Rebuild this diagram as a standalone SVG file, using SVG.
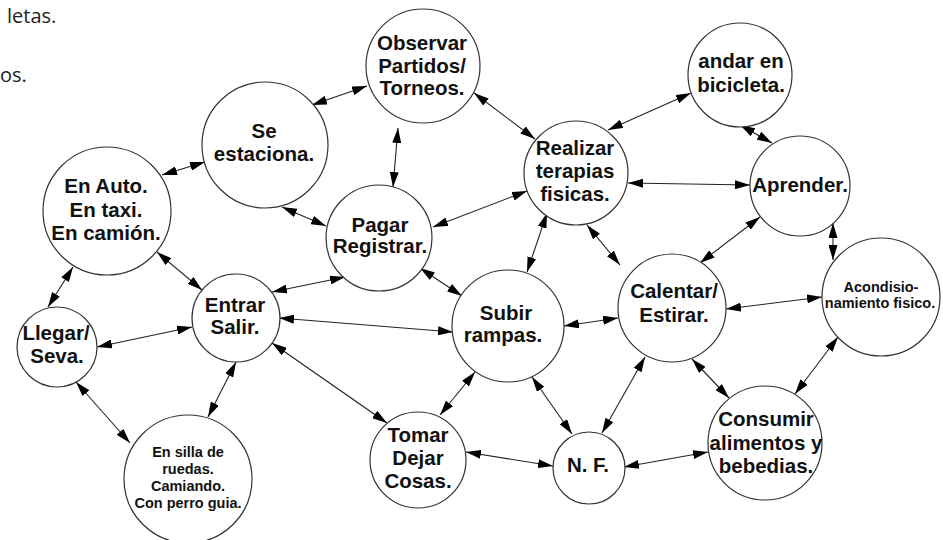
<svg xmlns="http://www.w3.org/2000/svg" width="943" height="540" viewBox="0 0 943 540">
<defs>
<marker id="ah" viewBox="0 0 15 9" refX="15" refY="4.5" markerWidth="15" markerHeight="9" markerUnits="userSpaceOnUse" orient="auto-start-reverse">
<path d="M0,0 L15,4.5 L0,9 z" fill="#000"/>
</marker>
<style>
.n circle{fill:#fff;stroke:#333;stroke-width:1.2}
.n text{font-family:"Liberation Sans",Arial,sans-serif;font-weight:bold;font-size:20.5px;fill:#111;text-anchor:middle}
.n text.s{font-size:14.5px}
#edges line{stroke:#222;stroke-width:1.1;marker-start:url(#ah);marker-end:url(#ah)}
.bg{font-family:"Open Sans","Liberation Sans",sans-serif;font-size:20px;fill:#222}
</style>
</defs>
<rect width="943" height="540" fill="#fff"/>
<text class="bg" x="7" y="23">letas.</text>
<text class="bg" x="0" y="82">os.</text>

<g id="edges">
<line x1="162" y1="175" x2="205" y2="162"/>
<line x1="282" y1="207" x2="326" y2="226"/>
<line x1="157" y1="252" x2="202" y2="290"/>
<line x1="73" y1="267" x2="48" y2="307"/>
<line x1="97" y1="347" x2="192" y2="327"/>
<line x1="76" y1="382" x2="130" y2="443"/>
<line x1="236" y1="362" x2="208" y2="417"/>
<line x1="272" y1="292" x2="345" y2="277"/>
<line x1="279" y1="318" x2="453" y2="332"/>
<line x1="272" y1="343" x2="387" y2="423"/>
<line x1="420" y1="268" x2="462" y2="296"/>
<line x1="475" y1="372" x2="440" y2="415"/>
<line x1="532" y1="377" x2="572" y2="434"/>
<line x1="466" y1="452" x2="553" y2="466"/>
<line x1="547" y1="213" x2="527" y2="272"/>
<line x1="433" y1="227" x2="527" y2="191"/>
<line x1="312" y1="105" x2="367" y2="86"/>
<line x1="398" y1="128" x2="393" y2="187"/>
<line x1="474" y1="93" x2="535" y2="139"/>
<line x1="587" y1="225" x2="620" y2="265"/>
<line x1="608" y1="130" x2="691" y2="93"/>
<line x1="628" y1="183" x2="750" y2="185"/>
<line x1="740" y1="125" x2="772" y2="143"/>
<line x1="760" y1="217" x2="700" y2="263"/>
<line x1="833" y1="223" x2="833" y2="260"/>
<line x1="726" y1="309" x2="822" y2="297"/>
<line x1="564" y1="326" x2="618" y2="318"/>
<line x1="645" y1="357" x2="602" y2="433"/>
<line x1="692" y1="359" x2="729" y2="398"/>
<line x1="838" y1="337" x2="795" y2="394"/>
<line x1="624" y1="467" x2="708" y2="452"/>
</g>

<g id="observar" class="n"><circle cx="423" cy="66" r="57"/>
<text x="422" y="50">Observar</text><text x="422" y="73">Partidos/</text><text x="422" y="95">Torneos.</text></g>

<g id="seestaciona" class="n"><circle cx="265" cy="145" r="63"/>
<text x="264" y="138">Se</text><text x="264" y="161">estaciona.</text></g>

<g id="enauto" class="n"><circle cx="107" cy="211" r="64"/>
<text x="106" y="193">En Auto.</text><text x="106" y="217">En taxi.</text><text x="106" y="240">En camión.</text></g>

<g id="llegar" class="n"><circle cx="57" cy="347" r="40"/>
<text x="56" y="340">Llegar/</text><text x="57" y="363">Seva.</text></g>

<g id="entrar" class="n"><circle cx="236" cy="318" r="44"/>
<text x="235" y="312">Entrar</text><text x="235" y="334">Salir.</text></g>

<g id="ensilla" class="n"><circle cx="188" cy="479" r="64"/>
<text class="s" x="188" y="457">En silla de</text><text class="s" x="188" y="474">ruedas.</text><text class="s" x="188" y="491">Camiando.</text><text class="s" x="188" y="508">Con perro guia.</text></g>

<g id="pagar" class="n"><circle cx="379" cy="238" r="53"/>
<text x="380" y="232">Pagar</text><text x="380" y="253">Registrar.</text></g>

<g id="realizar" class="n"><circle cx="576" cy="173" r="52"/>
<text x="575" y="155">Realizar</text><text x="575" y="178">terapias</text><text x="575" y="201">fisicas.</text></g>

<g id="andar" class="n"><circle cx="740" cy="75" r="52"/>
<text x="741" y="68">andar en</text><text x="741" y="92">bicicleta.</text></g>

<g id="aprender" class="n"><circle cx="800" cy="186" r="50"/>
<text x="800" y="192">Aprender.</text></g>

<g id="acondisio" class="n"><circle cx="881" cy="297" r="59"/>
<text class="s" x="881" y="292">Acondisio-</text><text class="s" x="880" y="308">namiento fisico.</text></g>

<g id="calentar" class="n"><circle cx="672" cy="308" r="54"/>
<text x="674" y="298">Calentar/</text><text x="674" y="322">Estirar.</text></g>

<g id="subir" class="n"><circle cx="508" cy="326" r="56"/>
<text x="506" y="320">Subir</text><text x="503" y="342">rampas.</text></g>

<g id="tomar" class="n"><circle cx="418" cy="460" r="48"/>
<text x="418" y="442">Tomar</text><text x="418" y="465">Dejar</text><text x="418" y="488">Cosas.</text></g>

<g id="nf" class="n"><circle cx="589" cy="468" r="36"/>
<text x="588" y="472">N. F.</text></g>

<g id="consumir" class="n"><circle cx="765" cy="443" r="57"/>
<text x="766" y="426">Consumir</text><text x="766" y="450">alimentos y</text><text x="766" y="473">bebedias.</text></g>
</svg>
